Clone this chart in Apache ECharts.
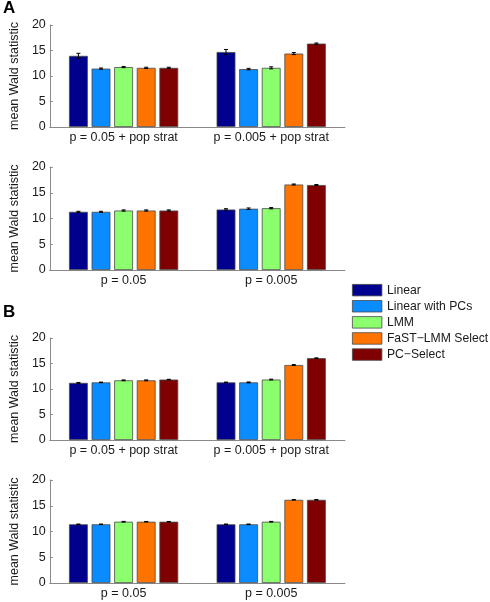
<!DOCTYPE html>
<html>
<head>
  <meta charset="utf-8">
  <title>mean Wald statistic</title>
  <script src="https://cdn.jsdelivr.net/npm/echarts@6/dist/echarts.min.js"></script>
  <style>
    html, body { margin: 0; padding: 0; background: #fff; }
    #chart { width: 490px; height: 602px; }
  </style>
</head>
<body>
<div id="chart"></div>
<script type="text/javascript">
// method names and colours (legend order)
var methods = ['Linear', 'Linear with PCs', 'LMM', 'FaST\u2212LMM Select', 'PC\u2212Select'];
var colors = ['#00008f', '#0a8cff', '#8cff6e', '#ff7300', '#7f0000'];

// x-axis categories
var catsStrat = ['p = 0.05 + pop strat', 'p = 0.005 + pop strat'];
var catsPlain = ['p = 0.05', 'p = 0.005'];

// panel A, top (pop strat) - one list per method: [p=0.05, p=0.005]
var aStratMean = [[13.95, 14.7], [11.45, 11.35], [11.75, 11.6], [11.6, 14.4], [11.6, 16.35]];
var aStratErr  = [[0.5, 0.5], [0.12, 0.15], [0.12, 0.2], [0.12, 0.2], [0.12, 0.12]];
// panel A, bottom
var aPlainMean = [[11.3, 11.75], [11.3, 11.9], [11.55, 12.0], [11.55, 16.6], [11.55, 16.5]];
var aPlainErr  = [[0.1, 0.15], [0.1, 0.15], [0.12, 0.12], [0.12, 0.1], [0.12, 0.1]];
// panel B, top (pop strat)
var bStratMean = [[11.2, 11.3], [11.3, 11.3], [11.7, 11.85], [11.7, 14.7], [11.85, 16.05]];
var bStratErr  = [[0.08, 0.05], [0.05, 0.08], [0.08, 0.08], [0.08, 0.08], [0.05, 0.05]];
// panel B, bottom
var bPlainMean = [[11.4, 11.4], [11.4, 11.4], [11.9, 11.9], [11.9, 16.15], [11.9, 16.15]];
var bPlainErr  = [[0.05, 0.05], [0.05, 0.05], [0.06, 0.06], [0.05, 0.05], [0.05, 0.06]];

// y ticks
var yMin = 0, yMax = 20, yStep = 5;

var myChart = echarts.init(document.getElementById('chart'));

var FONT = 'Liberation Sans, Arial, sans-serif';
var BAR_CAT_GAP = 0.26, BAR_GAP = 0.2;

// panel boxes in pixels
var panels = [
  { top: 25,  height: 102, cats: catsStrat, mean: aStratMean, err: aStratErr },
  { top: 167, height: 103, cats: catsPlain, mean: aPlainMean, err: aPlainErr },
  { top: 338, height: 102, cats: catsStrat, mean: bStratMean, err: bStratErr },
  { top: 480, height: 103, cats: catsPlain, mean: bPlainMean, err: bPlainErr }
];

// error bars placed on the same category band as the bars
function errRender(params, api) {
  var cat = api.value(0), k = api.value(1), v = api.value(2), e = api.value(3);
  var n = methods.length;
  var band = api.size([1, 0])[0];
  var bw = band * (1 - BAR_CAT_GAP) / (n + (n - 1) * BAR_GAP);
  var total = n * bw + (n - 1) * bw * BAR_GAP;
  var base = api.coord([cat, v]);
  var cx = base[0] - total / 2 + k * bw * (1 + BAR_GAP) + bw / 2;
  var yt = api.coord([cat, v + e])[1];
  var yb = api.coord([cat, v - e])[1];
  var cap = 2;
  var st = { stroke: '#000', lineWidth: 1 };
  return {
    type: 'group',
    children: [
      { type: 'line', shape: { x1: cx, y1: yt, x2: cx, y2: yb }, style: st },
      { type: 'line', shape: { x1: cx - cap, y1: yt, x2: cx + cap, y2: yt }, style: st },
      { type: 'line', shape: { x1: cx - cap, y1: yb, x2: cx + cap, y2: yb }, style: st }
    ]
  };
}

var grids = [], xAxes = [], yAxes = [], series = [];
panels.forEach(function (p, gi) {
  grids.push({ left: 36, width: 309, top: p.top, height: p.height });
  xAxes.push({
    type: 'category', gridIndex: gi, data: p.cats,
    axisLine: { lineStyle: { color: '#8a8a8a', width: 1 } },
    axisTick: { show: false },
    axisLabel: { color: '#1a1a1a', fontSize: 12.5, fontFamily: FONT, margin: 4, interval: 0 }
  });
  yAxes.push({
    type: 'value', gridIndex: gi, min: yMin, max: yMax, interval: yStep,
    name: 'mean Wald statistic', nameLocation: 'middle', nameGap: 22,
    nameTextStyle: { color: '#1a1a1a', fontSize: 12.5, fontFamily: FONT },
    axisLine: { show: true, lineStyle: { color: '#8a8a8a', width: 1 } },
    axisTick: { show: true, inside: true, length: 3, lineStyle: { color: '#8a8a8a' } },
    axisLabel: { color: '#1a1a1a', fontSize: 12.5, fontFamily: FONT, margin: 4 },
    splitLine: { show: false }
  });
  var errData = [];
  methods.forEach(function (m, k) {
    series.push({
      name: m, type: 'bar', xAxisIndex: gi, yAxisIndex: gi,
      data: p.mean[k],
      barCategoryGap: (BAR_CAT_GAP * 100) + '%',
      barGap: (BAR_GAP * 100) + '%',
      itemStyle: { color: colors[k], borderColor: '#4a4a4a', borderWidth: 0.8 },
      emphasis: { disabled: true },
      animation: false
    });
    p.mean[k].forEach(function (v, c) {
      errData.push([c, k, v, p.err[k][c]]);
    });
  });
  series.push({
    type: 'custom', xAxisIndex: gi, yAxisIndex: gi,
    renderItem: errRender, data: errData,
    encode: { x: 0, y: 2 }, z: 10, silent: true, animation: false
  });
});

myChart.setOption({
  backgroundColor: '#fff',
  animation: false,
  grid: grids,
  xAxis: xAxes,
  yAxis: yAxes,
  legend: {
    data: methods, orient: 'vertical', left: 352, top: 284, padding: 0,
    itemWidth: 29.5, itemHeight: 11.5, itemGap: 3.8, icon: 'rect',
    selectedMode: false,
    itemStyle: { borderColor: '#4a4a4a', borderWidth: 0.8 },
    textStyle: { color: '#1a1a1a', fontSize: 12.2, fontFamily: FONT }
  },
  graphic: [
    { type: 'text', left: 3, top: 0, style: { text: 'A', fontSize: 17, fontWeight: 'bold', fontFamily: FONT, fill: '#000' } },
    { type: 'text', left: 3, top: 304, style: { text: 'B', fontSize: 17, fontWeight: 'bold', fontFamily: FONT, fill: '#000' } }
  ],
  series: series
});
</script>
</body>
</html>
